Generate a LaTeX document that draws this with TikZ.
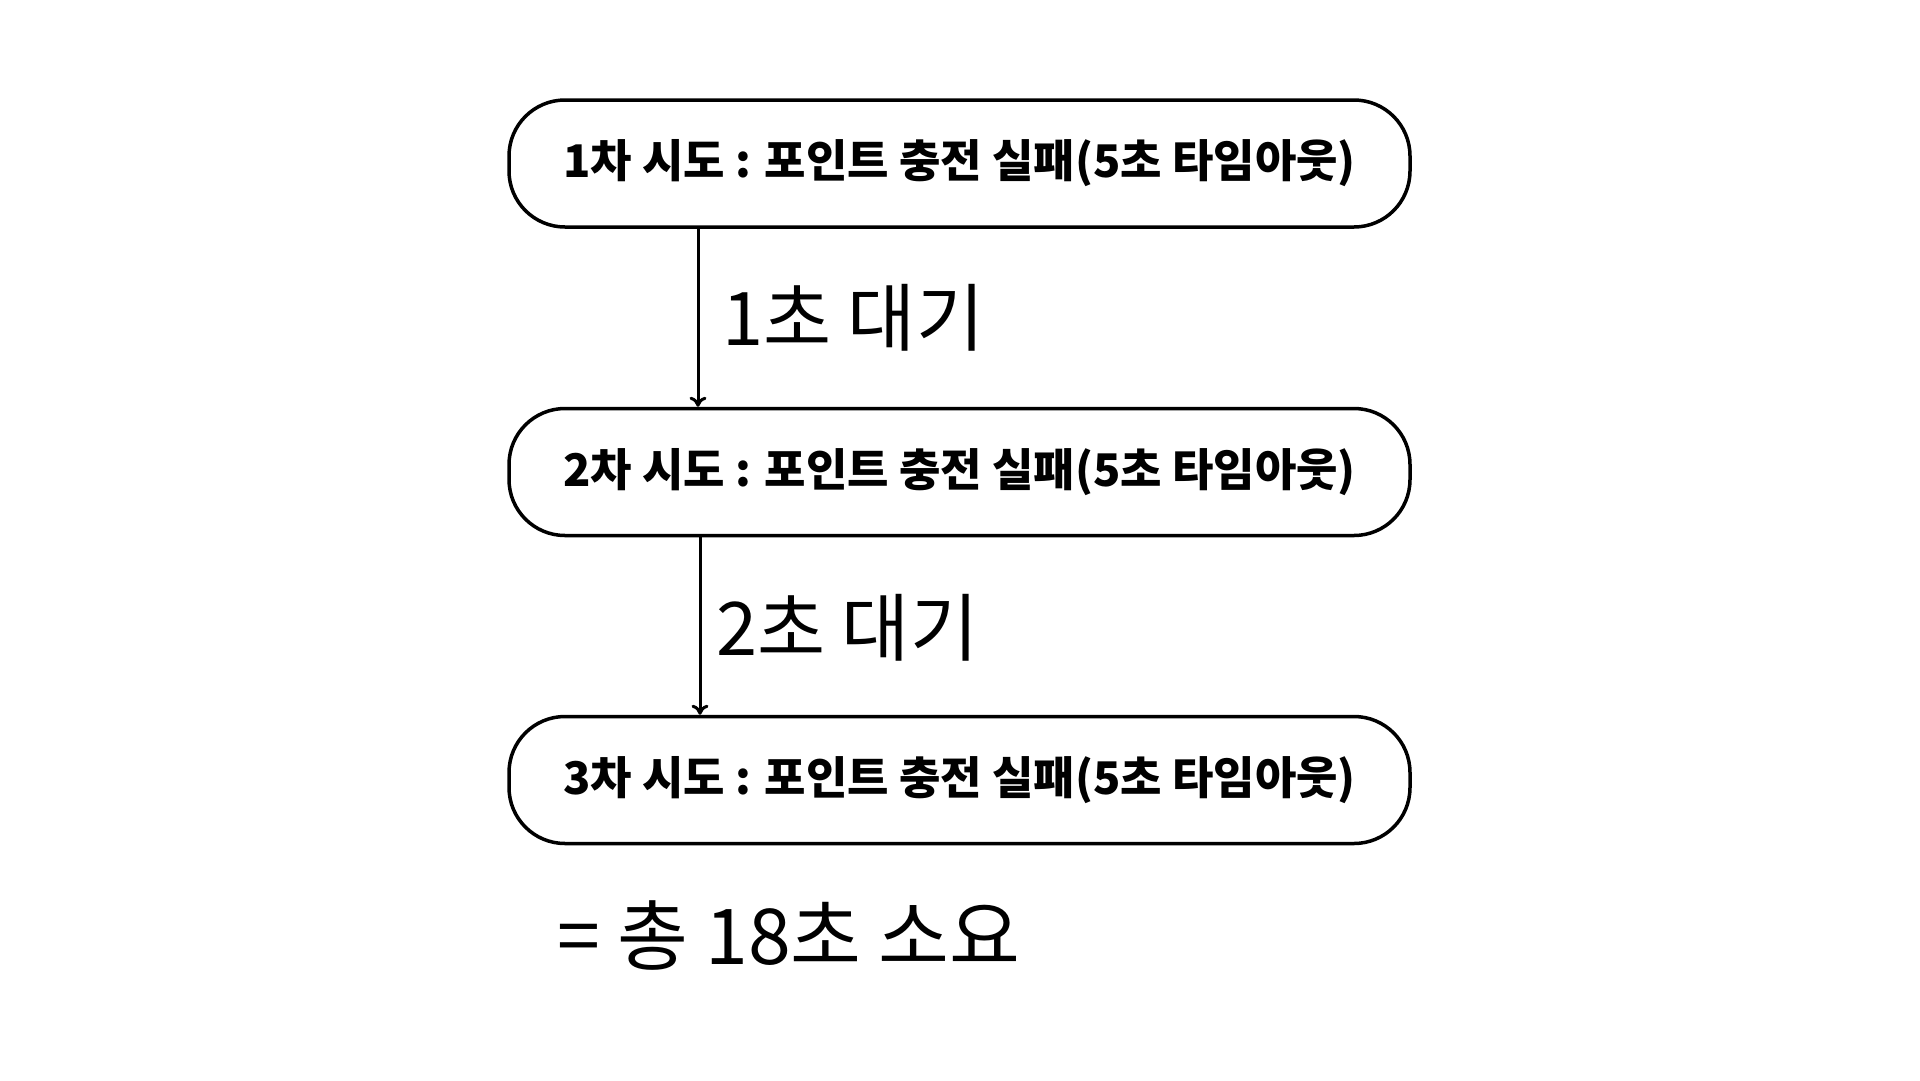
\documentclass[tikz,border=0pt]{standalone}
\usepackage{fontspec}
\setmainfont{Noto Sans CJK KR}
\newfontfamily\boxfont{Noto Sans CJK KR Black}
\usetikzlibrary{arrows.meta}
\tikzset{
  attempt/.style={draw=black, line width=3.5pt, rounded corners=56pt, minimum width=901pt, minimum height=127pt, inner sep=0pt, font=\fontsize{45}{54}\selectfont\boxfont},
  waitlabel/.style={anchor=west, inner sep=0pt, font=\fontsize{74}{86}\selectfont},
  flow/.style={line width=3pt, -{To[length=10pt,width=17pt,line width=3pt]}}
}
\begin{document}
\begin{tikzpicture}[x=1pt,y=-1pt]
\useasboundingbox (0,0) rectangle (1920,1080);
\node[attempt] (a1) at (959.5,163.5) {1차 시도 : 포인트 충전 실패(5초 타임아웃)};
\node[attempt] (a2) at (959.5,472) {2차 시도 : 포인트 충전 실패(5초 타임아웃)};
\node[attempt] (a3) at (959.5,780) {3차 시도 : 포인트 충전 실패(5초 타임아웃)};
\coordinate (s1) at (698,227);
\coordinate (e1) at (698,407);
\coordinate (s2) at (700,537);
\coordinate (e2) at (700,716);
\draw[flow] (s1 |- a1.south) -- (e1 |- a2.north);
\draw[flow] (s2 |- a2.south) -- (e2 |- a3.north);
\node[waitlabel] (w1) at (722,318) {1초 대기};
\node[waitlabel] (w2) at (716,628) {2초 대기};
\node[waitlabel, font=\fontsize{77}{90}\selectfont] (tot) at (557,935) {= 총 18초 소요};
\end{tikzpicture}
\end{document}
